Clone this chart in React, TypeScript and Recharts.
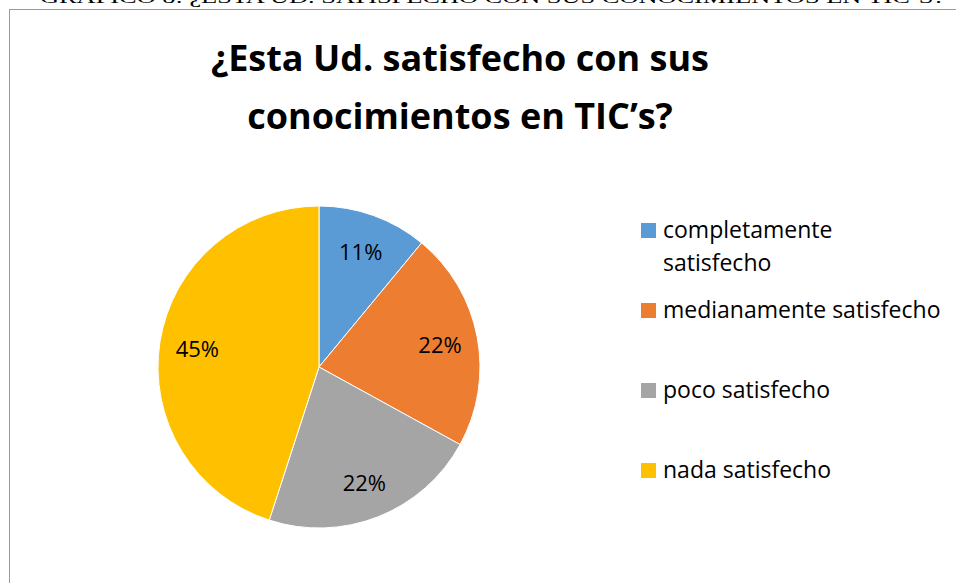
import { Cell, Legend, Pie, PieChart } from "recharts";

const categories = [
  "completamente satisfecho",
  "medianamente satisfecho",
  "poco satisfecho",
  "nada satisfecho",
];
const percents = [11, 22, 22, 45];
const colors = ["#5B9BD5", "#ED7D31", "#A5A5A5", "#FFC000"];

const titleLines = ["¿Esta Ud. satisfecho con sus", "conocimientos en TIC’s?"];
const caption = "GRÁFICO 8: ¿ESTA UD. SATISFECHO CON SUS CONOCIMIENTOS EN TIC’S?";

const data = categories.map((name, i) => ({ name, value: percents[i] }));

const FONT = "'Open Sans', 'Noto Sans', sans-serif";
const RADIAN = Math.PI / 180;

function renderLabel(props: any) {
  const { cx, cy, midAngle, outerRadius, value } = props;
  const r = outerRadius * 0.765;
  const x = cx + r * Math.cos(-midAngle * RADIAN);
  const y = cy + r * Math.sin(-midAngle * RADIAN);
  return (
    <text
      x={x}
      y={y}
      fill="#000"
      textAnchor="middle"
      dominantBaseline="central"
      fontFamily={FONT}
      fontSize={22}
    >
      {`${value}%`}
    </text>
  );
}

// legend keeps the series order (recharts 3 sorts its payload by name)
function LegendContent() {
  return (
    <div style={{ fontFamily: FONT, fontSize: 23, lineHeight: "33px", color: "#000" }}>
      {categories.map((name, i) => (
        <div key={name} style={{ display: "flex", height: 80 }}>
          <div
            style={{
              width: 15,
              height: 15,
              marginTop: 10,
              marginRight: 7,
              background: colors[i],
              flex: "none",
            }}
          />
          <div style={{ width: 280 }}>{name}</div>
        </div>
      ))}
    </div>
  );
}

export default function App() {
  return (
    <div
      style={{
        position: "absolute",
        left: 0,
        top: 0,
        width: 956,
        height: 583,
        overflow: "hidden",
        background: "#fff",
      }}
    >
      <svg width={956} height={10} style={{ position: "absolute", left: 0, top: 0 }}>
        <text
          x={40}
          y={3}
          textLength={905}
          lengthAdjust="spacingAndGlyphs"
          fontFamily="'Liberation Serif', serif"
          fontSize={17}
          fill="#000"
        >
          {caption}
        </text>
      </svg>
      <div
        style={{
          position: "absolute",
          left: 9,
          top: 9,
          width: 1000,
          height: 700,
          border: "1px solid #9a9a9a",
        }}
      />
      {titleLines.map((line, i) => (
        <div
          key={line}
          style={{
            position: "absolute",
            left: 0,
            top: 29 + i * 58,
            width: 920,
            textAlign: "center",
            fontFamily: FONT,
            fontWeight: 700,
            fontSize: 36,
            lineHeight: "58px",
            color: "#000",
            whiteSpace: "nowrap",
          }}
        >
          {line}
        </div>
      ))}
      <div style={{ position: "absolute", left: 0, top: 0 }}>
        <PieChart width={956} height={583} margin={{ top: 0, right: 0, bottom: 0, left: 0 }}>
          <Pie
            data={data}
            dataKey="value"
            nameKey="name"
            cx={319}
            cy={367}
            outerRadius={161}
            startAngle={90}
            endAngle={-270}
            stroke="#fff"
            strokeWidth={1}
            label={renderLabel}
            labelLine={false}
            isAnimationActive={false}
          >
            {data.map((d, i) => (
              <Cell key={d.name} fill={colors[i]} />
            ))}
          </Pie>
          <Legend
            layout="vertical"
            content={<LegendContent />}
            wrapperStyle={{ position: "absolute", left: 641, top: 213, width: 310 }}
          />
        </PieChart>
      </div>
    </div>
  );
}
